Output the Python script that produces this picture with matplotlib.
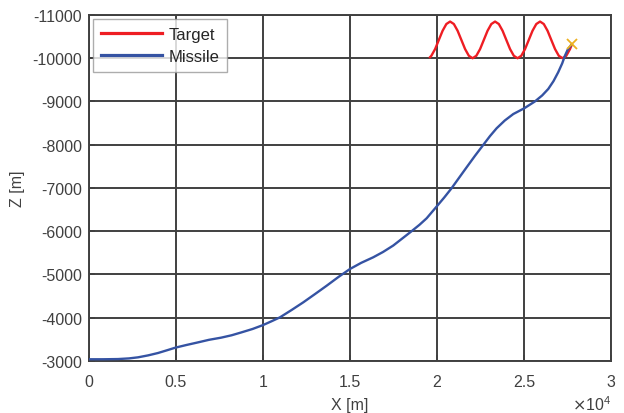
import matplotlib.pyplot as plt
from matplotlib.ticker import FuncFormatter

plt.rcParams['font.family'] = ['Liberation Sans', 'DejaVu Sans']
plt.rcParams['axes.unicode_minus'] = False

# Target path (x [m], z [m])
target_x = [19600, 19680, 19896, 20111, 20327, 20542, 20757, 20973, 21188, 21404,
            21619, 21834, 22050, 22265, 22481, 22696, 22911, 23127, 23342, 23558,
            23773, 23988, 24204, 24419, 24635, 24850, 25065, 25281, 25496, 25712,
            25927, 26142, 26358, 26573, 26789, 27004, 27219, 27435, 27650, 27740]
target_z = [-10023, -10057, -10212, -10424, -10636, -10791, -10848, -10791, -10636, -10424,
            -10212, -10057, -10000, -10057, -10212, -10424, -10636, -10791, -10848, -10791,
            -10636, -10424, -10212, -10057, -10000, -10057, -10212, -10424, -10636, -10791,
            -10848, -10791, -10636, -10424, -10212, -10057, -10000, -10057, -10212, -10300]

# Missile path
missile_x = [0, 800, 1670, 2300, 2820, 3400, 3970, 4500, 4980, 5600,
             6260, 6900, 7600, 8200, 8750, 9400, 10000, 10500, 10980, 11650,
             12320, 13000, 13660, 14330, 15000, 15650, 16340, 16900, 17490, 18000,
             18540, 19000, 19410, 19980, 20420, 20840, 21280, 21710, 22180, 22660,
             23050, 23430, 23900, 24390, 25020, 25630, 26050, 26400, 26700, 26970,
             27200, 27360, 27520, 27740]
missile_z = [-3040, -3040, -3045, -3060, -3085, -3130, -3185, -3250, -3310, -3370,
             -3430, -3490, -3540, -3595, -3660, -3740, -3830, -3920, -4010, -4180,
             -4357, -4550, -4740, -4940, -5127, -5270, -5398, -5520, -5670, -5830,
             -6000, -6150, -6300, -6570, -6780, -6993, -7240, -7480, -7740, -7994,
             -8200, -8380, -8560, -8710, -8843, -9000, -9140, -9290, -9470, -9675,
             -9880, -10060, -10200, -10320]

hit_x = [27740]
hit_z = [-10320]

xticks = [0, 5000, 10000, 15000, 20000, 25000, 30000]
yticks = [-3000, -4000, -5000, -6000, -7000, -8000, -9000, -10000, -11000]

fig = plt.figure(figsize=(6.24, 4.14), dpi=100)
ax = fig.add_axes([0.1426, 0.1256, 0.8364, 0.8358])

grey = '#404040'
ax.plot(target_x, target_z, color='#ee1d23', lw=1.7, label='Target', zorder=3)
ax.plot(missile_x, missile_z, color='#3553a3', lw=1.7, label='Missile', zorder=3)
ax.plot(hit_x, hit_z, 'x', color='#edb120', ms=7, mew=1.3, zorder=4)

ax.set_xlim(0, 30000)
ax.set_ylim(-3000, -11000)
ax.set_xticks(xticks)
ax.set_yticks(yticks)
ax.xaxis.set_major_formatter(FuncFormatter(lambda v, p: f'{v / 1e4:g}'))
ax.grid(True, color=grey, lw=1.4)
ax.set_axisbelow(True)
for s in ax.spines.values():
    s.set_color(grey)
    s.set_linewidth(1.4)
ax.tick_params(direction='in', colors=grey, labelsize=11.5, length=4, width=1.2)
ax.tick_params(axis='x', pad=9)
ax.tick_params(axis='y', pad=5)

ax.set_xlabel('X [m]', fontsize=11.5, color=grey, labelpad=6)
ax.set_ylabel('Z [m]', fontsize=11.5, color=grey, labelpad=5)
fig.text(611 / 624, 3 / 414, r'$\times\mathregular{10^{4}}$', ha='right', va='baseline',
         fontsize=11.5, color=grey)

leg = ax.legend(loc='upper left', fontsize=12, frameon=True, fancybox=False,
                borderaxespad=0.25, handlelength=3.7, handletextpad=0.35, labelspacing=0.45,
                borderpad=0.45)
leg.get_frame().set_edgecolor('#999999')
leg.get_frame().set_linewidth(1.0)
for t in leg.get_texts():
    t.set_color('#262626')
for h in leg.get_lines():
    h.set_linewidth(2.3)

fig.savefig('out.png', dpi=100)
